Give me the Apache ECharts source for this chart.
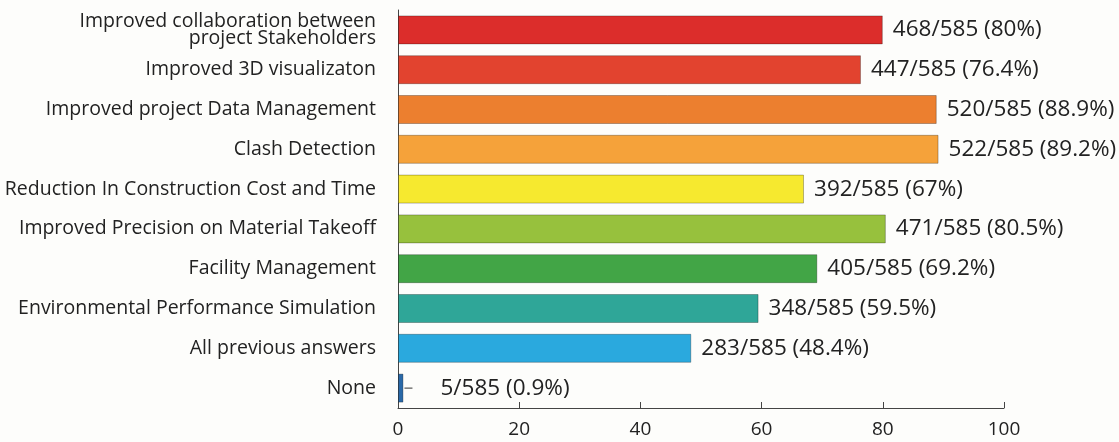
<!DOCTYPE html>
<html>
<head>
<meta charset="utf-8">
<script src="https://cdn.jsdelivr.net/npm/echarts@6/dist/echarts.min.js"></script>
<style>
html,body{margin:0;padding:0;background:#fdfdfb;}
#c{width:1119px;height:442px;}
</style>
</head>
<body>
<div id="c"></div>
<script>
const categories = [
  "Improved collaboration between\nproject Stakeholders",
  "Improved 3D visualizaton",
  "Improved project Data Management",
  "Clash Detection",
  "Reduction In Construction Cost and Time",
  "Improved Precision on Material Takeoff",
  "Facility Management",
  "Environmental Performance Simulation",
  "All previous answers",
  "None"
];
const counts = [468, 447, 520, 522, 392, 471, 405, 348, 283, 5];
const total = 585;
const percents = [80, 76.4, 88.9, 89.2, 67, 80.5, 69.2, 59.5, 48.4, 0.9];
const xTicks = [0, 20, 40, 60, 80, 100];
const colors = ["#dc2d2b", "#e2432f", "#ec7f2f", "#f5a23a", "#f6e92f", "#97c13d", "#42a546", "#2fa698", "#2aa9de", "#2a69a8"];

const FONT = "Open Sans";
const chart = echarts.init(document.getElementById('c'));
const data = percents.map((p, i) => {
  const item = {
    value: p,
    itemStyle: { color: colors[i], borderColor: 'rgba(0,0,0,0.28)', borderWidth: 1 }
  };
  if (i === categories.length - 1) {
    item.label = {
      distance: 1,
      formatter: '{dash|}{gap|}{t|' + counts[i] + '/' + total + ' (' + p + '%)}',
      rich: {
        dash: { width: 8, height: 1, backgroundColor: '#333' },
        gap: { width: 28 },
        t: { fontFamily: FONT, fontSize: 22.5, color: '#222' }
      }
    };
  }
  return item;
});

chart.setOption({
  backgroundColor: '#fdfdfb',
  animation: false,
  grid: { left: 398, right: 115, top: 10, bottom: 34, containLabel: false, outerBoundsMode: 'none' },
  xAxis: {
    type: 'value', min: 0, max: 100, interval: 20,
    axisLine: { show: true, lineStyle: { color: '#444', width: 1 } },
    axisTick: { show: true, inside: true, length: 6, lineStyle: { color: '#444' } },
    splitLine: { show: false },
    axisLabel: {
      fontFamily: FONT, fontSize: 19, color: '#222', margin: 12,
      formatter: v => xTicks.includes(v) ? String(v) : ''
    }
  },
  yAxis: {
    type: 'category', data: categories, inverse: true,
    axisLine: { show: true, lineStyle: { color: '#444', width: 1 } },
    axisTick: { show: false },
    axisLabel: { fontFamily: FONT, fontSize: 19.5, color: '#222', margin: 22, lineHeight: 17, align: 'right' }
  },
  series: [{
    type: 'bar',
    data: data,
    barWidth: 29,
    label: {
      show: true, position: 'right', distance: 10,
      fontFamily: FONT, fontSize: 22.5, color: '#222',
      formatter: p => counts[p.dataIndex] + '/' + total + ' (' + percents[p.dataIndex] + '%)'
    }
  }]
});
</script>
</body>
</html>
